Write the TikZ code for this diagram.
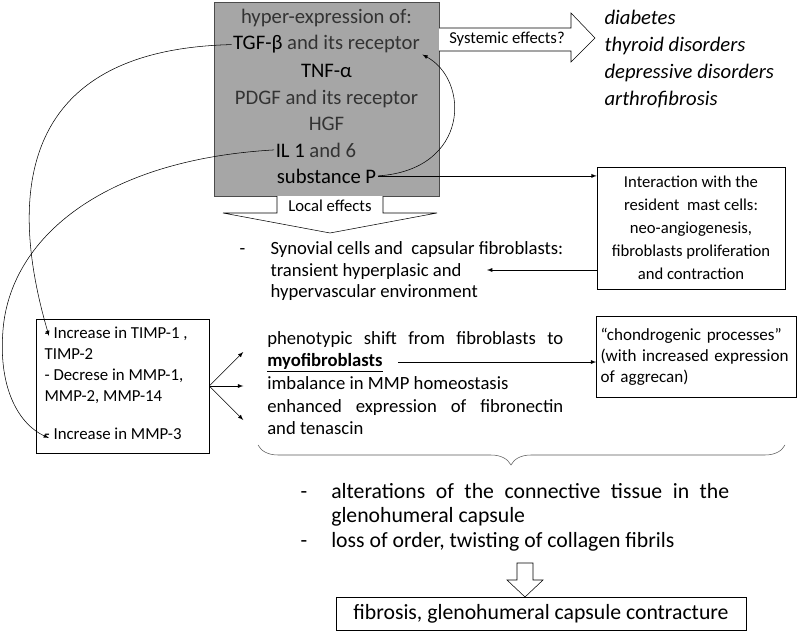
\documentclass[tikz,border=0pt]{standalone}
\usepackage{fontspec}
\setmainfont{Carlito}
\usetikzlibrary{calc,decorations.pathreplacing}

\begin{document}
\begin{tikzpicture}[x=0.75pt,y=-0.75pt]
  \tikzset{every node/.style={inner sep=1pt}}
  \tikzstyle{box}=[draw,thin]
  \tikzstyle{hollow}=[draw,thin,fill=white]
  \tikzstyle{conn}=[->,>=latex,thin]
  \tikzstyle{curly}=[decorate,decoration={brace,mirror,amplitude=15pt,aspect=0.48},thin,black!65]
  \tikzstyle{hyp}=[anchor=base,text=black!80,font=\fontsize{15.5}{19}\selectfont]
  \tikzstyle{small}=[font=\fontsize{12.5}{17}\selectfont]

  \useasboundingbox (0,0) rectangle (800,635);

  % hyper-expression block
  \node[box,draw=black!70,fill=black!35,minimum width=168.75pt,minimum height=145.5pt] (hyper) at (326.5,99) {};
  \node[hyp] (hyp)  at (326.5,24)  {hyper-expression of:};
  \node[hyp] (tgf)  at (326.5,50)  {\textcolor{black}{TGF-β} and its receptor};
  \node[hyp,text=black] (tnf) at (326.5,78) {TNF-α};
  \node[hyp] (pdgf) at (326.5,104) {PDGF and its receptor};
  \node[hyp] (hgf)  at (326.5,131) {HGF};
  \node[hyp] (il)   at (316,157)   {\textcolor{black}{IL 1} and 6};
  \node[hyp,text=black] (subp) at (326.5,183) {substance P};

  % systemic effects
  \draw[hollow] (439,28) -- (571,28) -- (571,13) -- (595,38) -- (571,62) -- (571,51) -- (439,51);
  \node[small] (sys) at (507,39) {Systemic effects?};
  \node[anchor=north west,align=left,font=\itshape\fontsize{15.5}{20.25}\selectfont] (sysfx) at (603,9)
    {diabetes\\thyroid disorders\\depressive disorders\\arthrofibrosis};

  % local effects
  \draw[hollow] (277,196) -- (277,213) -- (223,213) -- (330,233) -- (437,213) -- (383,213) -- (383,196);
  \node[small] (local) at (330,206) {Local effects};
  \node[anchor=north west,align=left,font=\fontsize{14}{16.1}\selectfont] (synov) at (269,240)
    {\llap{-\hspace{19pt}}Synovial cells and\ \ capsular fibroblasts:\\transient hyperplasic and\\hypervascular environment};

  % mast cells
  \node[box,align=center,minimum width=141pt,minimum height=91.5pt,font=\fontsize{12.5}{17.25}\selectfont] (inter) at (691,228)
    {Interaction with the\\resident\ \ mast cells:\\neo-angiogenesis,\\fibroblasts proliferation\\and contraction};

  % TIMP / MMP balance
  \node[box,minimum width=129.75pt,minimum height=100.5pt] (timp) at (122.5,386) {};
  \node[anchor=north west,align=left,font=\fontsize{12.6}{15.75}\selectfont] (timptxt) at (43,325)
    {- Increase in TIMP-1 ,\\TIMP-2\\- Decrese in MMP-1,\\MMP-2, MMP-14\\[13pt]- Increase in MMP-3};
  \coordinate (incA) at (49,336);
  \coordinate (incB) at (49,438);

  % fibroblast changes
  \node[anchor=north west,text width=222pt,align=justify,inner sep=0pt,font=\fontsize{14}{17}\selectfont] (pheno) at (267,331)
    {phenotypic shift from fibroblasts to\linebreak \underline{\textbf{myofibroblasts}}\\imbalance in MMP homeostasis\\enhanced expression of fibronectin\linebreak and tenascin};
  \coordinate (myo) at (398,362);
  \node[box,text width=144pt,align=left,minimum height=60.75pt,inner xsep=3pt,font=\fontsize{12.8}{15.75}\selectfont] (chondro) at (696.5,356.5)
    {“chondrogenic processes”\\(with increased expression\\of aggrecan)};

  % outcome
  \draw[curly] (258,445) -- (785,445);
  \node[anchor=north west,text width=298.5pt,align=justify,inner sep=0pt,font=\fontsize{16.3}{18.4}\selectfont] (alter) at (331,483)
    {\llap{-\hspace{18pt}}alterations of the connective tissue in the\linebreak glenohumeral capsule\\\llap{-\hspace{18pt}}loss of order, twisting of collagen fibrils};
  \draw[hollow] (517,563) -- (517,580) -- (507,580) -- (525,597) -- (543,580) -- (533,580) -- (533,563) -- cycle;
  \node[box,minimum width=307.5pt,minimum height=24.75pt,font=\fontsize{16.3}{18}\selectfont] (fibro) at (541,613.5)
    {fibrosis, glenohumeral capsule contracture};

  % connectors
  \draw[conn] (tgf.west) .. controls (0,50) and (15,220) .. (incA);
  \draw[conn] (il.west) .. controls (100,160) and (10,240) .. (3,330) .. controls (-2,390) and (20,425) .. (incB);
  \draw[conn] (subp.east) .. controls (470,170) and (470,80) .. ($(tgf.east)+(1,10)$);
  \draw[conn] (subp.east) -- (subp.east -| inter.west);
  \coordinate (trans) at (487,270);
  \draw[conn] (trans -| inter.west) -- (trans);
  \foreach \dy in {-34,0,34} \draw[conn] (timp.east) -- ++(34,\dy);
  \draw[conn] (myo) -- (myo -| chondro.west);

\end{tikzpicture}
\end{document}
